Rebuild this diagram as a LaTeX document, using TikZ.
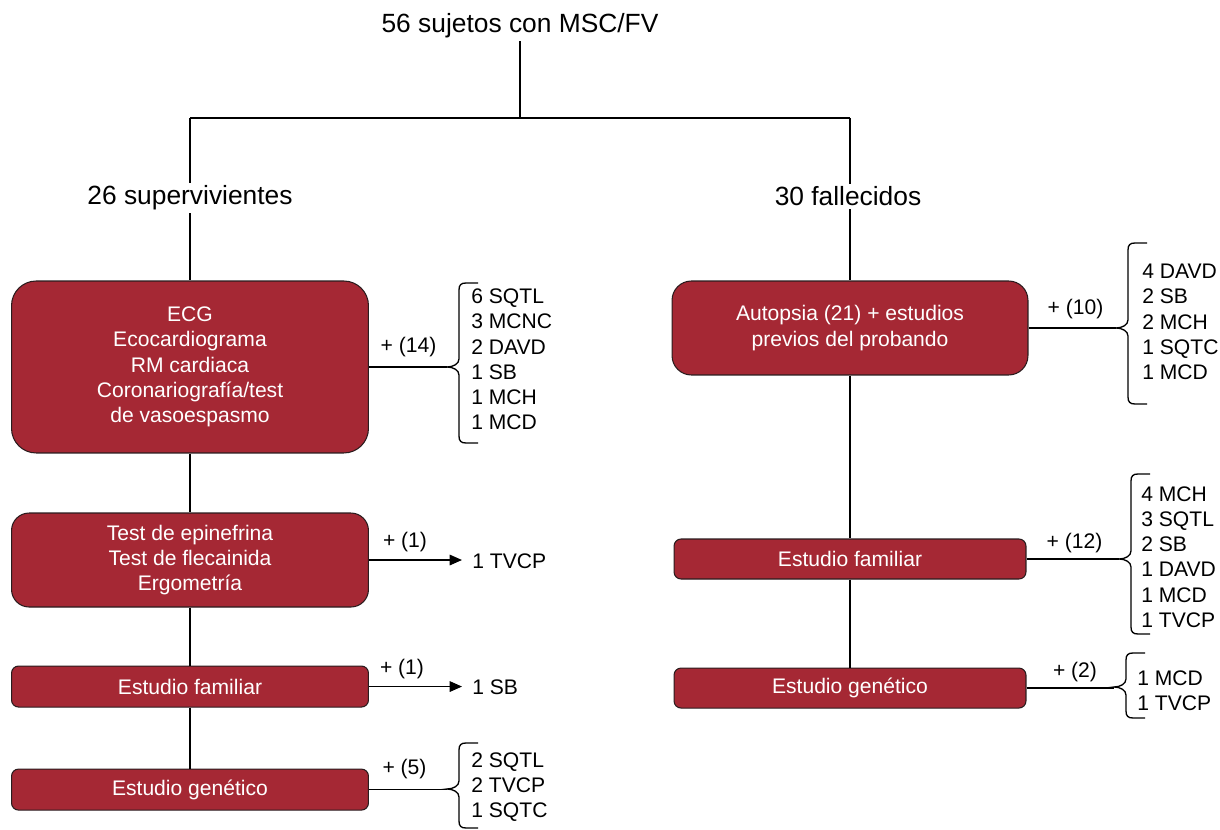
\documentclass[tikz,border=0pt]{standalone}
\usepackage{fontspec}
\setmainfont{Liberation Sans}
\usetikzlibrary{arrows.meta,positioning}
\definecolor{granate}{HTML}{A52834}
\definecolor{bordeoscuro}{HTML}{2A1C1E}
\tikzset{
  caja/.style={
    rectangle,
    draw=bordeoscuro,
    line width=0.6pt,
    fill=granate,
    text=white,
    align=center,
    inner sep=0pt,
    minimum width=7.14cm,
    font=\fontsize{12}{14.35}\selectfont
  },
  rama/.style={inner sep=1.5pt, font=\fontsize{15}{18}\selectfont},
  lista/.style={anchor=west, align=left, inner sep=0pt, font=\fontsize{12}{14.35}\selectfont},
  suma/.style={inner sep=0pt, font=\fontsize{12}{14.35}\selectfont},
  resultado/.style={anchor=west, inner xsep=5.7pt, inner ysep=0pt, font=\fontsize{12}{14.35}\selectfont},
  linea/.style={line width=0.75pt},
  flecha/.style={line width=0.75pt, -{Triangle[length=7pt,width=6pt]}}
}
% llave: nombre de la punta, x de la barra, arriba, punta, abajo
\newcommand{\llave}[5]{%
  \coordinate (#1) at (#2-12,#4);
  \draw[linea] (#2+19,#3) -- (#2+7,#3) .. controls (#2+2,#3) and (#2,#3+2) .. (#2,#3+7)
    -- (#2,#4-8) .. controls (#2,#4-3) and (#2-6,#4) .. (#1)
    .. controls (#2-6,#4) and (#2,#4+3) .. (#2,#4+8)
    -- (#2,#5-7) .. controls (#2,#5-2) and (#2+2,#5) .. (#2+7,#5) -- (#2+19,#5);
}

\begin{document}
\begin{tikzpicture}[x=0.02cm,y=-0.02cm]
    \useasboundingbox (0,0) rectangle (1220,830);

    \node[rama] (titulo) at (520,26) {56 sujetos con MSC/FV};
    \coordinate (cruce) at (520,118);
    \coordinate (izq) at (190,118);
    \coordinate (der) at (850,118);
    \node[rama] (superv) at (190,198) {26 supervivientes};
    \node[rama] (fallec) at (848,196.5) {30 fallecidos};

    % supervivientes
    \node[caja,rounded corners=14pt,minimum height=3.44cm] (pruebas) at (190,367) {ECG\\Ecocardiograma\\RM cardiaca\\Coronariograf\'ia/test\\de vasoespasmo};
    \node[caja,rounded corners=10pt,minimum height=1.88cm,below=1.18cm of pruebas] (provoc) {Test de epinefrina\\Test de flecainida\\Ergometr\'ia};
    \node[caja,rounded corners=4pt,minimum height=0.82cm,below=1.16cm of provoc] (famI) {Estudio familiar};
    \node[caja,rounded corners=4pt,minimum height=0.82cm,below=1.22cm of famI] (genI) {Estudio gen\'etico};

    % fallecidos
    \node[caja,rounded corners=11pt,minimum width=7.12cm,minimum height=1.88cm] (autopsia) at (850,328) {Autopsia (21) + estudios\\previos del probando};
    \node[caja,rounded corners=4pt,minimum width=7.04cm,minimum height=0.8cm,below=3.26cm of autopsia] (famD) {Estudio familiar};
    \node[caja,rounded corners=4pt,minimum width=7.04cm,minimum height=0.8cm,below=1.76cm of famD] (genD) {Estudio gen\'etico};

    \draw[linea] (titulo) -- (cruce);
    \draw[linea] (izq) -- (der);
    \draw[linea] (izq) -- (superv);
    \draw[linea] (der) -- (fallec.north -| der);
    \draw[linea] (fallec.south -| der) -- (autopsia);
    \draw[linea] (superv) -- (pruebas);
    \draw[linea] (pruebas) -- (provoc);
    \draw[linea] (provoc) -- (famI);
    \draw[linea] (famI) -- (genI);
    \draw[linea] (autopsia) -- (famD);
    \draw[linea] (famD) -- (genD);

    % hallazgos
    \llave{b1}{459}{283}{367}{443}
    \llave{b4}{459}{743}{789}{828}
    \llave{c1}{1128}{243}{328}{404}
    \llave{c2}{1131}{474}{559}{634}
    \llave{c3}{1126}{653}{687}{718}

    \node[lista] (lst1) at (471,359.5) {6 SQTL\\3 MCNC\\2 DAVD\\1 SB\\1 MCH\\1 MCD};
    \node[lista] (lst4) at (471,787) {2 SQTL\\2 TVCP\\1 SQTC};
    \node[lista] (lstD1) at (1142,322) {4 DAVD\\2 SB\\2 MCH\\1 SQTC\\1 MCD};
    \node[lista] (lstD2) at (1141,557) {4 MCH\\3 SQTL\\2 SB\\1 DAVD\\1 MCD\\1 TVCP};
    \node[lista] (lstD3) at (1137,691) {1 MCD\\1 TVCP};
    \node[resultado] (tvcp) at (462,561) {1 TVCP};
    \node[resultado] (sb) at (462,687) {1 SB};

    \draw[linea] (pruebas.east) -- (pruebas.east -| b1);
    \draw[linea] (genI.east) -- (genI.east -| b4);
    \draw[linea] (autopsia.east) -- (autopsia.east -| c1);
    \draw[linea] (famD.east) -- (famD.east -| c2);
    \draw[linea] (genD.east) -- (genD.east -| c3);
    \draw[flecha] (provoc.east) -- (provoc.east -| tvcp.west);
    \draw[flecha] (famI.east) -- (famI.east -| sb.west);

    \node[suma] (s14) at (408.5,347) {+ (14)};
    \node[suma] (s1a) at (405,542) {+ (1)};
    \node[suma] (s1b) at (402,669) {+ (1)};
    \node[suma] (s5) at (404.5,769) {+ (5)};
    \node[suma] (s10) at (1075.5,309) {+ (10)};
    \node[suma] (s12) at (1074.5,543) {+ (12)};
    \node[suma] (s2) at (1075,672) {+ (2)};
\end{tikzpicture}
\end{document}
